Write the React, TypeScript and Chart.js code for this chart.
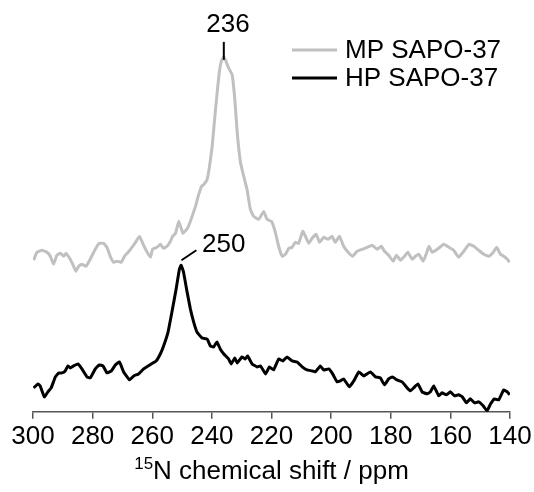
import React, { useEffect, useRef } from 'react';
import { Chart, registerables } from 'chart.js';

Chart.register(...registerables);

// ---- data ----
const mpShift = [
  299.8, 298.7, 297.0, 295.3, 294.2, 293.1, 292.0, 290.8, 289.7, 288.9,
  287.5, 286.7, 285.6, 284.7, 283.6, 282.2, 280.8, 279.1, 277.8, 276.3,
  275.2, 274.1, 273.0, 271.8, 270.4, 269.3, 268.1, 266.8, 265.4, 264.3,
  262.9, 261.7, 260.6, 259.9, 258.4, 257.3, 256.2, 255.0, 253.9, 253.2,
  252.2, 251.1, 249.7, 248.2, 247.2, 245.5, 244.6, 243.5, 242.7, 241.6,
  240.8, 239.9, 239.1, 238.3, 237.5, 236.8, 236.0, 235.2, 234.4, 233.2,
  232.3, 231.5, 230.4, 229.3, 228.2, 227.1, 226.0, 224.3, 222.6, 221.5,
  220.0, 218.7, 217.6, 216.4, 215.3, 214.2, 213.1, 212.0, 210.9, 209.5,
  208.6, 207.5, 206.4, 205.0, 203.9, 202.5, 201.0, 199.7, 198.6, 197.2,
  195.8, 194.3, 192.8, 191.3, 189.6, 187.9, 186.2, 184.6, 183.2, 182.1,
  180.7, 179.2, 178.1, 176.7, 175.4, 174.3, 172.8, 171.7, 170.6, 169.1,
  168.0, 167.2, 166.1, 164.4, 162.2, 160.5, 158.9, 157.2, 155.5, 153.8,
  152.1, 150.5, 148.8, 147.1, 145.6, 144.5, 143.2, 142.1, 140.9, 140.1,
];
const mpIntensity = [
  152, 160, 162, 160, 156, 148, 157, 159, 156, 159,
  153, 148, 141, 146, 148, 146, 153, 163, 169, 169,
  165, 156, 150, 151, 150, 156, 160, 165, 171, 176,
  167, 160, 155, 163, 165, 168, 164, 166, 171, 176,
  179, 191, 179, 184, 191, 206, 216, 226, 228, 233,
  246, 266, 293, 318, 341, 352, 356, 351, 345, 338,
  313, 280, 250, 236, 223, 203, 196, 193, 201, 193,
  191, 180, 166, 156, 158, 164, 165, 170, 169, 181,
  176, 169, 174, 178, 170, 175, 173, 176, 170, 176,
  166, 160, 156, 161, 163, 165, 167, 163, 166, 161,
  157, 151, 157, 152, 156, 160, 153, 156, 158, 151,
  159, 166, 160, 163, 168, 165, 162, 155, 161, 168,
  166, 162, 158, 156, 160, 165, 158, 156, 153, 150,
];

const hpShift = [
  299.8, 298.3, 297.6, 296.2, 295.0, 293.9, 292.5, 291.4, 290.3, 289.2,
  288.3, 287.5, 286.4, 284.9, 283.6, 281.9, 280.8, 279.1, 277.8, 276.5,
  275.2, 273.7, 272.4, 271.0, 269.6, 267.6, 266.2, 264.6, 262.9, 261.4,
  260.3, 258.7, 257.3, 256.2, 254.7, 253.4, 252.0, 250.9, 250.3, 249.5,
  248.3, 247.2, 246.1, 245.0, 243.3, 241.6, 240.5, 239.4, 238.3, 237.2,
  236.0, 234.4, 233.5, 232.3, 231.5, 229.9, 228.8, 228.0, 226.5, 224.8,
  223.7, 222.0, 220.7, 219.3, 217.6, 216.2, 214.8, 213.1, 211.4, 209.7,
  208.1, 206.4, 205.3, 203.6, 202.5, 200.8, 199.5, 198.0, 196.9, 195.8,
  193.9, 192.4, 190.7, 189.1, 186.8, 185.1, 183.5, 182.1, 180.7, 179.5,
  177.9, 176.2, 174.5, 173.4, 172.3, 170.9, 169.5, 167.8, 166.7, 165.6,
  163.9, 162.8, 161.3, 160.0, 158.6, 157.2, 156.0, 154.6, 153.3, 151.9,
  150.5, 149.0, 147.7, 146.5, 145.2, 143.8, 142.1, 140.9, 140.1,
];
const hpIntensity = [
  24, 28, 26, 15, 20, 24, 35, 39, 39, 41,
  46, 44, 46, 48, 43, 35, 34, 43, 47, 46,
  39, 41, 47, 50, 40, 32, 36, 38, 43, 46,
  48, 51, 58, 66, 80, 100, 123, 143, 147, 140,
  120, 103, 90, 80, 74, 73, 66, 65, 70, 63,
  58, 53, 48, 54, 49, 55, 53, 56, 48, 45,
  46, 38, 45, 42, 53, 51, 55, 51, 50, 45,
  42, 41, 40, 46, 42, 43, 38, 30, 31, 33,
  25, 31, 40, 36, 40, 35, 34, 27, 33, 35,
  32, 30, 24, 21, 24, 28, 20, 18, 20, 26,
  16, 19, 17, 20, 16, 17, 15, 9, 13, 9,
  10, 6, 1, 8, 13, 12, 22, 20, 17,
];

const seriesNames = ['MP SAPO-37', 'HP SAPO-37'];
const seriesColors = ['#c0c0c0', '#000000'];
const xTickValues = [300, 280, 260, 240, 220, 200, 180, 160, 140];
const axisTitleSup = '15';
const axisTitleMain = 'N chemical shift / ppm';

// peak annotations (data coordinates: ppm, intensity)
const peakLabels = ['236', '250'];
const peakMarkFrom = [[236.0, 353], [250.2, 152]];
const peakMarkTo = [[236.0, 371], [245.2, 162]];
const peakTextAt = [[234.6, 381], [243.3, 160]];
const peakTextAlign: CanvasTextAlign[] = ['center', 'left'];

const FONT = '"Liberation Sans", Arial, Helvetica, sans-serif';

const overlayPlugin = {
  id: 'overlay',
  afterDatasetsDraw(chart: any) {
    const { ctx, chartArea } = chart;
    const xs = chart.scales.x;
    const ys = chart.scales.y;
    ctx.save();
    // peak marks
    ctx.strokeStyle = '#000';
    ctx.lineWidth = 2;
    for (let i = 0; i < peakLabels.length; i++) {
      ctx.beginPath();
      ctx.moveTo(xs.getPixelForValue(peakMarkFrom[i][0]), ys.getPixelForValue(peakMarkFrom[i][1]));
      ctx.lineTo(xs.getPixelForValue(peakMarkTo[i][0]), ys.getPixelForValue(peakMarkTo[i][1]));
      ctx.stroke();
    }
    ctx.fillStyle = '#000';
    ctx.font = `26px ${FONT}`;
    ctx.textBaseline = 'alphabetic';
    for (let i = 0; i < peakLabels.length; i++) {
      ctx.textAlign = peakTextAlign[i];
      ctx.fillText(peakLabels[i], xs.getPixelForValue(peakTextAt[i][0]), ys.getPixelForValue(peakTextAt[i][1]));
    }
    // legend
    const legX0 = 292, legX1 = 337, legTextX = 345;
    const legY = [50, 78];
    for (let i = 0; i < seriesNames.length; i++) {
      ctx.strokeStyle = seriesColors[i];
      ctx.lineWidth = 3;
      ctx.beginPath();
      ctx.moveTo(legX0, legY[i]);
      ctx.lineTo(legX1, legY[i]);
      ctx.stroke();
      ctx.fillStyle = '#000';
      ctx.textAlign = 'left';
      ctx.fillText(seriesNames[i], legTextX, legY[i] + 8);
    }
    // axis title with superscript
    const cx = (chartArea.left + chartArea.right) / 2;
    const baseY = 479;
    ctx.font = `17px ${FONT}`;
    const wSup = ctx.measureText(axisTitleSup).width;
    ctx.font = `26px ${FONT}`;
    const wMain = ctx.measureText(axisTitleMain).width;
    const start = cx - (wSup + wMain) / 2;
    ctx.textAlign = 'left';
    ctx.font = `17px ${FONT}`;
    ctx.fillText(axisTitleSup, start, baseY - 10);
    ctx.font = `26px ${FONT}`;
    ctx.fillText(axisTitleMain, start + wSup, baseY);
    ctx.restore();
  },
};

export default function App() {
  const canvasRef = useRef<HTMLCanvasElement | null>(null);

  useEffect(() => {
    if (!canvasRef.current) return;
    const chart = new Chart(canvasRef.current, {
      type: 'line',
      data: {
        datasets: [
          {
            label: seriesNames[0],
            data: mpShift.map((x, i) => ({ x, y: mpIntensity[i] })),
            borderColor: seriesColors[0],
            borderWidth: 3,
            pointRadius: 0,
            tension: 0.1,
            fill: false,
          },
          {
            label: seriesNames[1],
            data: hpShift.map((x, i) => ({ x, y: hpIntensity[i] })),
            borderColor: seriesColors[1],
            borderWidth: 3,
            pointRadius: 0,
            tension: 0.1,
            fill: false,
          },
        ],
      },
      options: {
        animation: false,
        responsive: true,
        maintainAspectRatio: false,
        layout: { padding: { left: 33, right: 24, top: 0, bottom: 38 } },
        plugins: {
          legend: { display: false },
          tooltip: { enabled: false },
          title: { display: false },
        },
        scales: {
          x: {
            type: 'linear',
            min: 140,
            max: 300,
            reverse: true,
            afterBuildTicks: (scale: any) => {
              scale.ticks = xTickValues.map((v) => ({ value: v }));
            },
            grid: {
              display: true,
              drawOnChartArea: false,
              drawTicks: true,
              tickLength: 7,
              color: '#555555',
              lineWidth: 1.5,
            },
            border: { display: true, color: '#555555', width: 1.5 },
            ticks: {
              color: '#000',
              font: { family: FONT, size: 26 },
              padding: 2,
              maxRotation: 0,
              autoSkip: false,
            },
          },
          y: {
            display: false,
            min: 0,
            max: 413,
          },
        },
      },
      plugins: [overlayPlugin],
    });
    return () => chart.destroy();
  }, []);

  return (
    <div style={{ position: 'absolute', left: 0, top: 0, width: 534, height: 492, background: '#fff' }}>
      <canvas ref={canvasRef} />
    </div>
  );
}
